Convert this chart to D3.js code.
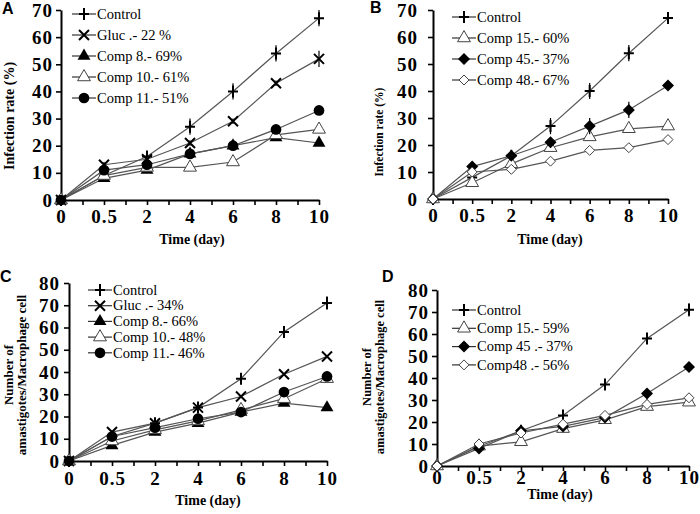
<!DOCTYPE html>
<html>
<head>
<meta charset="utf-8">
<script src="https://cdn.jsdelivr.net/npm/d3@7"></script>
<style>
  body { margin: 0; background: #fff; }
  svg { display: block; }
  text { font-family: "Liberation Serif", "Times New Roman", serif; }
</style>
</head>
<body>
<svg width="700" height="514"></svg>
<script>
// time points (categorical)
var days = ["0", "0.5", "2", "4", "6", "8", "10"];

// A: infection rate (%)
var aControl = [0, 9, 16, 27, 40, 54, 67];
var aGluc = [0, 13, 15, 21, 29, 43, 52];
var aComp8 = [0, 8, 11, 17, 20, 23, 21];
var aComp10 = [0, 9, 12, 12, 14, 24, 26];
var aComp11 = [0, 11, 13, 17, 20, 26, 33];
var aControlErr = [0, 1, 1, 3, 3, 3, 3];
var aGlucErr = [0, 1, 1, 1, 1, 1, 3];
var aLabels = ["Control", "Gluc .- 22 %", "Comp 8.- 69%", "Comp 10.- 61%", "Comp 11.- 51%"];

// B: infection rate (%)
var bControl = [0, 8, 16, 27, 40, 54, 67];
var bComp15 = [0, 6, 13, 19, 23, 26, 27];
var bComp45 = [0, 12, 16, 21, 27, 33, 42];
var bComp48 = [0, 10, 11, 14, 18, 19, 22];
var bControlErr = [0, 1, 1, 3, 3, 3, 2];
var bComp45Err = [0, 1, 1, 2, 3, 3, 1];
var bLabels = ["Control", "Comp 15.- 60%", "Comp 45.- 37%", "Comp 48.- 67%"];

// C: amastigotes / macrophage cell
var cControl = [0, 11, 17, 24, 37, 58, 71];
var cGluc = [0, 13, 17, 24, 29, 39, 47];
var cComp8 = [0, 7, 13, 17, 22, 26, 24];
var cComp10 = [0, 9, 14, 18, 23, 28, 37];
var cComp11 = [0, 11, 15, 19, 22, 31, 38];
var cControlErr = [0, 2, 1, 1, 2, 2, 3];
var cLabels = ["Control", "Gluc .- 34%", "Comp 8.- 66%", "Comp 10.- 48%", "Comp 11.- 46%"];

// D: amastigotes / macrophage cell
var dControl = [0, 9, 16, 23, 37, 58, 71];
var dComp15 = [0, 9, 11, 17, 21, 27, 29];
var dComp45 = [0, 8, 16, 18, 22, 33, 45];
var dComp48 = [0, 10, 15, 19, 23, 28, 31];
var dControlErr = [0, 1, 1, 1, 2, 2, 3];
var dLabels = ["Control", "Comp 15.- 59%", "Comp 45 .- 37%", "Comp48 .- 56%"];

var svg = d3.select("svg");

function markerPath(type) {
  switch (type) {
    case "plus": return "M-5,0H5M0,-6V6";
    case "cross": return "M-5,-5L5,5M-5,5L5,-5";
    case "tri": return d3.symbol(d3.symbolTriangle, 72)();
    case "circle": return d3.symbol(d3.symbolCircle, 90)();
    case "diamond": return "M0,-6L6,0L0,6L-6,0Z";
    case "diamondOpen": return "M0,-5L5,0L0,5L-5,0Z";
  }
}

function drawMarker(sel, type, fill) {
  var p = sel.append("path").attr("d", markerPath(type));
  if (type == "plus" || type == "cross") {
    p.attr("fill", "none").attr("stroke", "#000").attr("stroke-width", 2);
  } else if (fill) {
    p.attr("fill", "#000");
  } else {
    p.attr("fill", "#fff").attr("stroke", "#444").attr("stroke-width", 1);
  }
  return p;
}

function drawPanel(p) {
  var g = svg.append("g");
  var x = d3.scaleLinear().domain([0, days.length - 1]).range([p.x0, p.x1]);
  var y = d3.scaleLinear().domain([0, p.yMax]).range([p.yBase, p.yTop]);

  var xAxis = g.append("g")
    .attr("transform", "translate(0," + p.yBase + ")")
    .call(d3.axisBottom(x)
      .tickValues(d3.range(0, days.length - 0.5, 0.5))
      .tickFormat(function (i) { return Number.isInteger(i) ? days[i] : ""; })
      .tickSize(5).tickSizeOuter(0).tickPadding(p.xPad));

  var yAxis = g.append("g")
    .attr("transform", "translate(" + p.x0 + ",0)")
    .call(d3.axisLeft(y)
      .tickValues(d3.range(0, p.yMax + 1, 10))
      .tickSize(5).tickSizeOuter(0).tickPadding(p.yPad));

  [xAxis, yAxis].forEach(function (a) {
    a.select(".domain").attr("stroke", "#000").attr("stroke-width", 2);
    a.selectAll(".tick line").attr("stroke", "#000").attr("stroke-width", 1.6);
    a.selectAll("text")
      .attr("fill", "#000")
      .style("font-family", "'Liberation Serif', serif")
      .style("font-size", "19px")
      .style("font-weight", "bold")
      .style("letter-spacing", "1px");
  });

  // x axis title
  g.append("text")
    .attr("x", p.xtX).attr("y", p.xtY)
    .attr("text-anchor", "middle")
    .style("font-size", "14px").style("font-weight", "bold")
    .text("Time (day)");

  // y axis title (one or two lines)
  p.yTitle.forEach(function (t, k) {
    g.append("text")
      .attr("transform", "translate(" + p.ytX[k] + "," + p.ytY + ") rotate(-90)")
      .attr("text-anchor", "middle")
      .attr("dy", "0.35em")
      .style("font-size", p.ytSize + "px").style("font-weight", "bold")
      .text(t);
  });

  // panel letter
  g.append("text")
    .attr("x", p.letterX).attr("y", p.letterY)
    .style("font-family", "'Liberation Sans', Arial, sans-serif")
    .style("font-size", "16px").style("font-weight", "bold")
    .text(p.letter);

  var line = d3.line()
    .x(function (d, i) { return x(i); })
    .y(function (d) { return y(d); });

  p.series.forEach(function (s) {
    g.append("path")
      .attr("d", line(s.values))
      .attr("fill", "none")
      .attr("stroke", "#555")
      .attr("stroke-width", 1.2);
  });

  p.series.forEach(function (s) {
    if (s.err) {
      s.values.forEach(function (v, i) {
        if (!s.err[i]) return;
        g.append("line")
          .attr("x1", x(i)).attr("x2", x(i))
          .attr("y1", y(v - s.err[i])).attr("y2", y(v + s.err[i]))
          .attr("stroke", "#000").attr("stroke-width", 1.2);
      });
    }
    s.values.forEach(function (v, i) {
      drawMarker(g.append("g").attr("transform", "translate(" + x(i) + "," + y(v) + ")"), s.marker, s.fill);
    });
  });

  // legend
  p.series.forEach(function (s, i) {
    var ly = p.legY + i * p.legStep;
    var lg = g.append("g");
    lg.append("line")
      .attr("x1", p.legX).attr("x2", p.legX + 24)
      .attr("y1", ly).attr("y2", ly)
      .attr("stroke", "#333").attr("stroke-width", 1.2);
    drawMarker(lg.append("g").attr("transform", "translate(" + (p.legX + 12) + "," + ly + ")"), s.marker, s.fill);
    lg.append("text")
      .attr("x", p.legX + 25).attr("y", ly).attr("dy", "0.33em")
      .style("font-size", "14.5px")
      .text(s.label);
  });
}

drawPanel({
  letter: "A", letterX: 2, letterY: 14,
  x0: 61, x1: 319, yBase: 200, yTop: 10, yMax: 70, xPad: 5, yPad: 3,
  xtX: 192, xtY: 244,
  yTitle: ["Infection rate (%)"], ytX: [9], ytY: 116, ytSize: 14,
  legX: 72, legY: 14, legStep: 21,
  series: [
    { values: aControl, err: aControlErr, marker: "plus", label: aLabels[0] },
    { values: aGluc, err: aGlucErr, marker: "cross", label: aLabels[1] },
    { values: aComp8, marker: "tri", fill: true, label: aLabels[2] },
    { values: aComp10, marker: "tri", fill: false, label: aLabels[3] },
    { values: aComp11, marker: "circle", fill: true, label: aLabels[4] }
  ]
});

drawPanel({
  letter: "B", letterX: 370, letterY: 13,
  x0: 433, x1: 668, yBase: 199, yTop: 10, yMax: 70, xPad: 5, yPad: 10,
  xtX: 550, xtY: 244,
  yTitle: ["Infection rate (%)"], ytX: [379], ytY: 132, ytSize: 11.5,
  legX: 452, legY: 17, legStep: 21,
  series: [
    { values: bControl, err: bControlErr, marker: "plus", label: bLabels[0] },
    { values: bComp15, marker: "tri", fill: false, label: bLabels[1] },
    { values: bComp45, err: bComp45Err, marker: "diamond", fill: true, label: bLabels[2] },
    { values: bComp48, marker: "diamondOpen", fill: false, label: bLabels[3] }
  ]
});

drawPanel({
  letter: "C", letterX: 0, letterY: 282,
  x0: 69, x1: 327, yBase: 461, yTop: 283, yMax: 80, xPad: 6, yPad: 4,
  xtX: 208, xtY: 505,
  yTitle: ["Number of", "amastigotes/Macrophage cell"], ytX: [8, 21], ytY: 375, ytSize: 13,
  legX: 88, legY: 290, legStep: 15.7,
  series: [
    { values: cControl, err: cControlErr, marker: "plus", label: cLabels[0] },
    { values: cGluc, marker: "cross", label: cLabels[1] },
    { values: cComp8, marker: "tri", fill: true, label: cLabels[2] },
    { values: cComp10, marker: "tri", fill: false, label: cLabels[3] },
    { values: cComp11, marker: "circle", fill: true, label: cLabels[4] }
  ]
});

drawPanel({
  letter: "D", letterX: 382, letterY: 282,
  x0: 437, x1: 689, yBase: 466, yTop: 290, yMax: 80, xPad: 0, yPad: 3,
  xtX: 560, xtY: 499,
  yTitle: ["Number of", "amastigotes/Macrophage cell"], ytX: [367, 380], ytY: 377, ytSize: 12.5,
  legX: 452, legY: 310, legStep: 18.3,
  series: [
    { values: dControl, err: dControlErr, marker: "plus", label: dLabels[0] },
    { values: dComp15, marker: "tri", fill: false, label: dLabels[1] },
    { values: dComp45, marker: "diamond", fill: true, label: dLabels[2] },
    { values: dComp48, marker: "diamondOpen", fill: false, label: dLabels[3] }
  ]
});
</script>
</body>
</html>
